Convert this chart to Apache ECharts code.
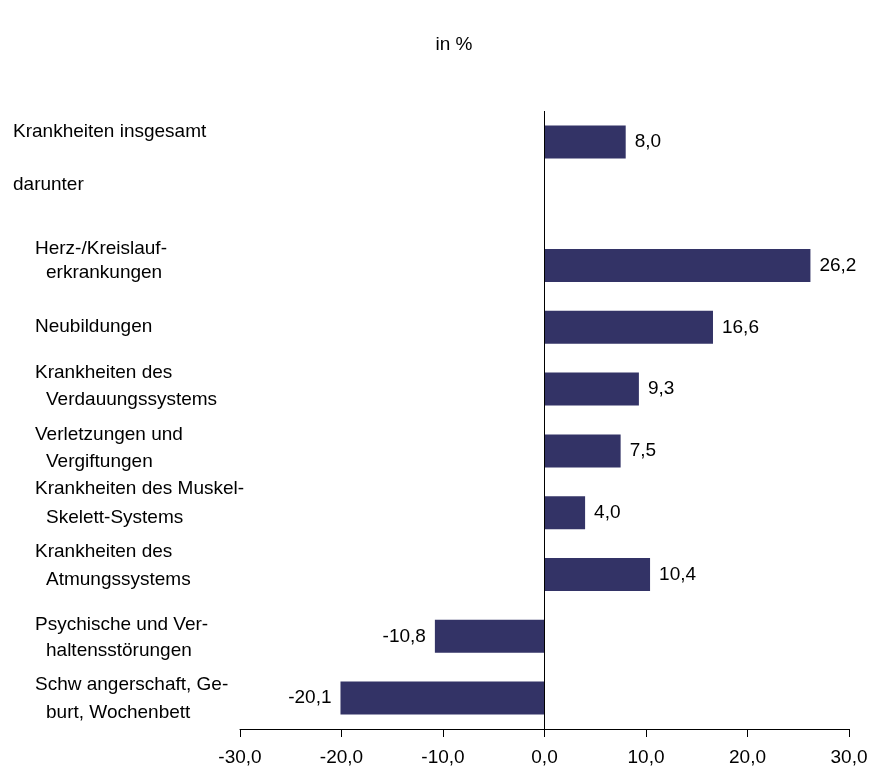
<!DOCTYPE html>
<html>
<head>
<meta charset="utf-8">
<script src="https://cdn.jsdelivr.net/npm/echarts@6/dist/echarts.min.js"></script>
<style>
html,body{margin:0;padding:0;background:#fff;}
#main{width:881px;height:767px;}
</style>
</head>
<body>
<div id="main"></div>
<script>
// Kategorien (von oben nach unten)
var categories = [
	["Krankheiten insgesamt"],
	["darunter"],
	["Herz-/Kreislauf-", "erkrankungen"],
	["Neubildungen"],
	["Krankheiten des", "Verdauungssystems"],
	["Verletzungen und", "Vergiftungen"],
	["Krankheiten des Muskel-", "Skelett-Systems"],
	["Krankheiten des", "Atmungssystems"],
	["Psychische und Ver-", "haltensstörungen"],
	["Schw angerschaft, Ge-", "burt, Wochenbett"]
];
var values = [8.0, null, 26.2, 16.6, 9.3, 7.5, 4.0, 10.4, -10.8, -20.1];
var xTicks = [-30, -20, -10, 0, 10, 20, 30];

// Layout der Beschriftungen (Einrückung, Versatz nach oben, Zeilenabstand)
var indented = [false, false, true, true, true, true, true, true, true, true];
var labelShift = [10, 19, 5, 1, 3, 3, 9, 9, -1, -1];
var lineGap = [27, 27, 24, 27, 27, 27, 29, 28, 26, 28];

var FONT = "'Liberation Sans', Arial, sans-serif";
var FS = 19;

function fmt(v){
	return v.toFixed(1).replace(".", ",");
}

var catKeys = categories.map(function(c, i){ return "c" + i; });

var rich = {};
categories.forEach(function(c, i){
	var first = indented[i] ? 22 : 0;
	rich["r" + i + "a"] = {fontSize:FS, fontFamily:FONT, color:"#000", lineHeight:lineGap[i], padding:[0,0,0,first]};
	rich["r" + i + "b"] = {fontSize:FS, fontFamily:FONT, color:"#000", lineHeight:lineGap[i], padding:[0,0,0,first+11]};
	rich["s" + i] = {fontSize:1, lineHeight:2*Math.abs(labelShift[i])};
});

var seriesData = values.map(function(v){
	if (v === null) return {value:null};
	return {value:v, label:{position: v < 0 ? "left" : "right"}};
});

var myChart = echarts.init(document.getElementById("main"));
var option = {
	backgroundColor:"#fff",
	animation:false,
	title:{
		text:"in %",
		left:449,
		top:30,
		textAlign:"center",
		textStyle:{fontSize:FS, fontWeight:"normal", fontFamily:FONT, color:"#000"}
	},
	grid:{left:240, right:32, top:111, bottom:38},
	xAxis:{
		type:"value",
		min:xTicks[0],
		max:xTicks[xTicks.length-1],
		interval:10,
		axisLine:{show:true, onZero:false, lineStyle:{color:"#000", width:1}},
		axisTick:{show:true, inside:false, length:8, lineStyle:{color:"#000"}},
		splitLine:{show:false},
		axisLabel:{
			margin:19,
			fontSize:FS,
			fontFamily:FONT,
			color:"#000",
			formatter:function(v){ return fmt(v); }
		}
	},
	yAxis:{
		type:"category",
		inverse:true,
		data:catKeys,
		axisLine:{show:false, onZero:false},
		axisTick:{show:false},
		axisLabel:{
			align:"left",
			margin:227,
			formatter:function(v, i){
				var c = categories[i];
				var s = "{r" + i + "a|" + c[0] + "}";
				if (c.length > 1) s += "\n{r" + i + "b|" + c[1] + "}";
				// Abstandszeile verschiebt die Beschriftung nach oben bzw. unten
				if (labelShift[i] > 0) s = s + "\n{s" + i + "|\u00a0}";
				if (labelShift[i] < 0) s = "{s" + i + "|\u00a0}\n" + s;
				return s;
			},
			rich:rich
		}
	},
	series:[{
		type:"bar",
		data:seriesData,
		barWidth:33,
		itemStyle:{color:"#333366"},
		label:{
			show:true,
			distance:9,
			fontSize:FS,
			fontFamily:FONT,
			color:"#000",
			formatter:function(p){ return fmt(p.value); }
		},
		markLine:{
			silent:true,
			symbol:["none","none"],
			label:{show:false},
			lineStyle:{color:"#000", width:1, type:"solid"},
			data:[{xAxis:0}]
		}
	}]
};
myChart.setOption(option);
</script>
</body>
</html>
